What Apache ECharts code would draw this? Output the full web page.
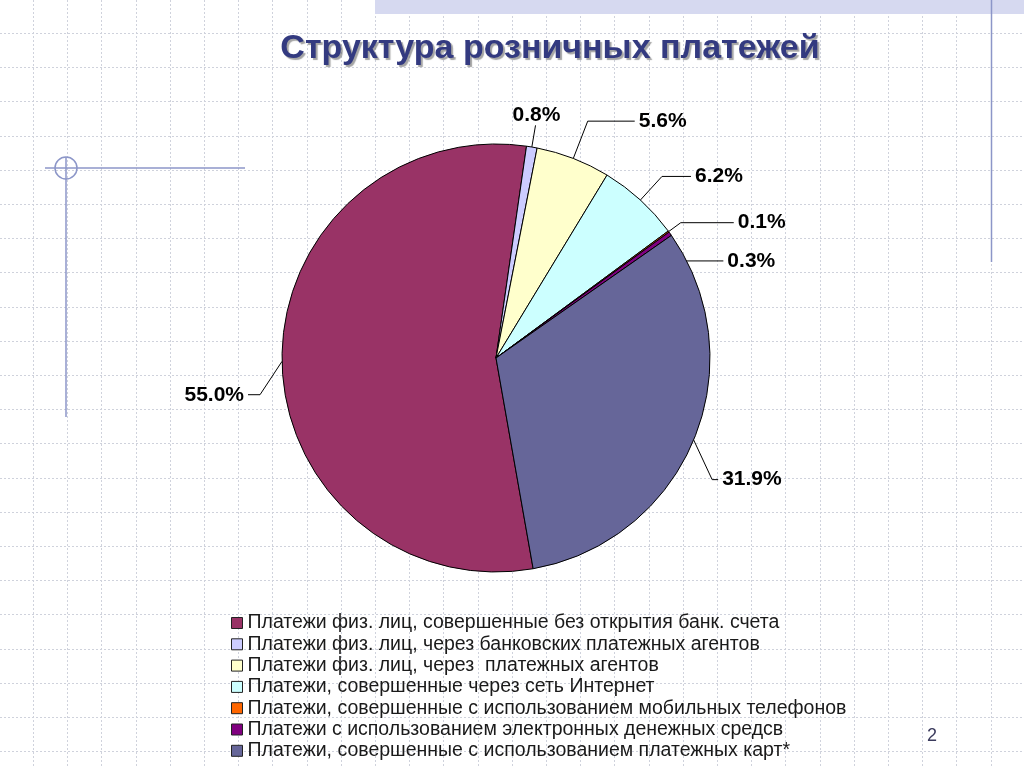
<!DOCTYPE html>
<html>
<head>
<meta charset="utf-8">
<script src="https://cdn.jsdelivr.net/npm/echarts@6/dist/echarts.min.js"></script>
<style>
html,body{margin:0;padding:0;background:#fff;}
#chart{width:1024px;height:767px;}
</style>
</head>
<body>
<div id="chart"></div>
<script>
var titleText = 'Структура розничных платежей';
var categories = [
  'Платежи физ. лиц, совершенные без открытия банк. счета',
  'Платежи физ. лиц, через банковских платежных агентов',
  'Платежи физ. лиц, через  платежных агентов',
  'Платежи, совершенные через сеть Интернет',
  'Платежи, совершенные с использованием мобильных телефонов',
  'Платежи с использованием электронных денежных средсв',
  'Платежи, совершенные с использованием платежных карт*'
];
var values = [55.0, 0.8, 5.6, 6.2, 0.1, 0.3, 31.9];
var colors = ['#993366', '#CCCCFF', '#FFFFCC', '#CCFFFF', '#FF6600', '#800080', '#666699'];
var pageNumber = '2';

// leader-line styling per slice (style only)
var lineLen  = [22, 22, 40, 32, 15, 10, 20];
var lineLen2 = [12, 0, 47, 29, 53, 45, 6];
var labelShiftY = [33, 0, 0, 0, 0, 33, 32];

var chart = echarts.init(document.getElementById('chart'));

var graphics = [];
var step = 34.2;
for (var gx = 33; gx < 1024; gx += step) {
  graphics.push({type:'line', silent:true, z:-10, shape:{x1:Math.round(gx)+0.5, y1:0, x2:Math.round(gx)+0.5, y2:767},
    style:{stroke:'#cfd2dc', lineWidth:1, lineDash:[2,2]}});
}
for (var gy = 33; gy < 767; gy += step) {
  graphics.push({type:'line', silent:true, z:-10, shape:{x1:0, y1:Math.round(gy)+0.5, x2:1024, y2:Math.round(gy)+0.5},
    style:{stroke:'#cfd2dc', lineWidth:1, lineDash:[2,2]}});
}
graphics.push({type:'rect', silent:true, z:-5, shape:{x:375, y:0, width:649, height:14}, style:{fill:'#d6d9f0'}});
graphics.push({type:'line', silent:true, z:-5, shape:{x1:991.5, y1:0, x2:991.5, y2:262}, style:{stroke:'#8c96c8', lineWidth:1.5}});
graphics.push({type:'line', silent:true, z:-5, shape:{x1:45, y1:168, x2:245, y2:168}, style:{stroke:'#8c96c8', lineWidth:1.5}});
graphics.push({type:'line', silent:true, z:-5, shape:{x1:66, y1:157, x2:66, y2:417}, style:{stroke:'#8c96c8', lineWidth:1.5}});
graphics.push({type:'circle', silent:true, z:-5, shape:{cx:66, cy:168, r:11}, style:{stroke:'#8c96c8', fill:'none', lineWidth:1.5}});
graphics.push({type:'text', silent:true, style:{x:932, y:736, text:pageNumber, fill:'#3a3a5c', font:'18px "Liberation Sans", Arial, sans-serif', textAlign:'center', textVerticalAlign:'middle'}});

chart.setOption({
  animation:false,
  backgroundColor:'#ffffff',
  color: colors,
  title:{
    text: titleText,
    left: 545, top: 27, textAlign:'center',
    textStyle:{
      fontFamily:'"Liberation Sans", Arial, sans-serif',
      fontSize:34, fontWeight:'bold', color:'#333a80',
      textShadowColor:'rgba(90,90,90,0.55)', textShadowOffsetX:2, textShadowOffsetY:2, textShadowBlur:1
    }
  },
  legend:{
    orient:'vertical', left:231, top:613, height:200, padding:0,
    itemWidth:11, itemHeight:11, itemGap:1.3,
    icon:'rect',
    textStyle:{fontFamily:'"Liberation Sans", Arial, sans-serif', fontSize:19.5, color:'#1a1a1a', lineHeight:19},
    itemStyle:{borderColor:'#222', borderWidth:1},
    data: categories
  },
  graphic: graphics,
  series:[{
    type:'pie',
    center:[496, 358],
    radius: 214,
    startAngle: -80,
    clockwise: true,
    avoidLabelOverlap: false,
    itemStyle:{borderColor:'#000', borderWidth:1},
    label:{
      show:true, position:'outside',
      formatter: function(p){ return p.value.toFixed(1) + '%'; },
      fontFamily:'"Liberation Sans", Arial, sans-serif',
      fontSize:21, fontWeight:'bold', color:'#000', distanceToLabelLine:4
    },
    labelLine:{show:true, length:22, length2:14, lineStyle:{color:'#000', width:1}},
    labelLayout: function(p){
      if (p.dataIndex === 1) return {dx: -27, dy: -10};
      var s = labelShiftY[p.dataIndex];
      if (!s || !p.labelLinePoints) return {};
      var pts = p.labelLinePoints.map(function(pt, k){
        return k === 0 ? [pt[0], pt[1]] : [pt[0], pt[1] + s];
      });
      return {dy: s, labelLinePoints: pts};
    },
    emphasis:{disabled:true},
    data: categories.map(function(c, i){
      return {name:c, value:values[i], labelLine:{length:lineLen[i], length2:lineLen2[i]}};
    })
  }]
});
</script>
</body>
</html>
